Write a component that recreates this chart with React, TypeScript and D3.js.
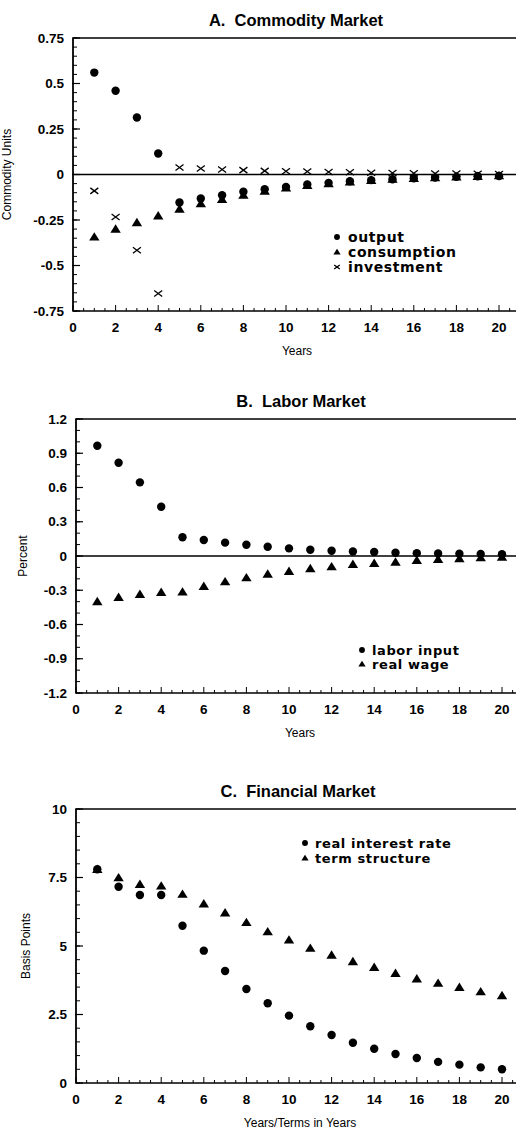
import React from "react";
import * as d3 from "d3";

// ---------- DATA ----------
const years = [1, 2, 3, 4, 5, 6, 7, 8, 9, 10, 11, 12, 13, 14, 15, 16, 17, 18, 19, 20];

// Panel A: Commodity Market (commodity units)
const outputA = [0.56, 0.46, 0.313, 0.115, -0.154, -0.132, -0.114, -0.095, -0.081, -0.068, -0.055, -0.046, -0.037, -0.031, -0.026, -0.021, -0.017, -0.013, -0.01, -0.008];
const consumptionA = [-0.343, -0.3, -0.264, -0.227, -0.19, -0.16, -0.137, -0.114, -0.092, -0.074, -0.06, -0.05, -0.04, -0.032, -0.026, -0.021, -0.017, -0.013, -0.01, -0.007];
const investmentA = [-0.09, -0.233, -0.416, -0.654, 0.038, 0.033, 0.027, 0.024, 0.02, 0.018, 0.016, 0.014, 0.012, 0.01, 0.008, 0.007, 0.006, 0.005, 0.004, 0.003];

// Panel B: Labor Market (percent)
const laborInput = [0.966, 0.817, 0.645, 0.432, 0.164, 0.14, 0.117, 0.099, 0.081, 0.067, 0.055, 0.046, 0.04, 0.035, 0.029, 0.025, 0.022, 0.02, 0.018, 0.016];
const realWage = [-0.4, -0.362, -0.336, -0.318, -0.315, -0.266, -0.225, -0.19, -0.158, -0.134, -0.111, -0.094, -0.073, -0.064, -0.053, -0.038, -0.029, -0.023, -0.015, -0.01];

// Panel C: Financial Market (basis points)
const realRate = [7.8, 7.16, 6.86, 6.86, 5.74, 4.83, 4.09, 3.43, 2.91, 2.46, 2.07, 1.75, 1.47, 1.25, 1.06, 0.91, 0.77, 0.67, 0.57, 0.5];
const termStructure = [7.8, 7.49, 7.25, 7.19, 6.89, 6.54, 6.21, 5.86, 5.52, 5.22, 4.92, 4.67, 4.43, 4.22, 4.0, 3.8, 3.64, 3.49, 3.33, 3.19];

// Ticks
const xTicks = [0, 2, 4, 6, 8, 10, 12, 14, 16, 18, 20];
const yTicksA = [0.75, 0.5, 0.25, 0, -0.25, -0.5, -0.75];
const yTickLabelsA = ["0.75", "0.5", "0.25", "0", "-0.25", "-0.5", "-0.75"];
const yTicksB = [1.2, 0.9, 0.6, 0.3, 0, -0.3, -0.6, -0.9, -1.2];
const yTickLabelsB = ["1.2", "0.9", "0.6", "0.3", "0", "-0.3", "-0.6", "-0.9", "-1.2"];
const yTicksC = [10, 7.5, 5, 2.5, 0];
const yTickLabelsC = ["10", "7.5", "5", "2.5", "0"];

type Marker = "circle" | "triangle" | "cross";
interface Series { name: string; values: number[]; marker: Marker; }

const TICK_FONT = "'Liberation Sans', Arial, sans-serif";
const LEG_FONT = "'DejaVu Sans', sans-serif";

function MarkerShape({ type, x, y, s = 1 }: { type: Marker; x: number; y: number; s?: number }) {
  if (type === "circle") return <circle cx={x} cy={y} r={4.2 * s} fill="#000" />;
  if (type === "triangle") {
    const w = 5.2 * s, hb = 3.6 * s, ht = 4.8 * s;
    return <path d={`M${x - w},${y + hb}L${x + w},${y + hb}L${x},${y - ht}Z`} fill="#000" />;
  }
  const w = 4 * s, h = 3 * s;
  return (
    <path d={`M${x - w},${y - h}L${x + w},${y + h}M${x - w},${y + h}L${x + w},${y - h}`} stroke="#000" strokeWidth={1.3} fill="none" />
  );
}

interface PanelProps {
  title: string; titleX: number;
  top: number; bottom: number; left: number; x20: number;
  yDomain: [number, number]; yTicks: number[]; yLabels: string[]; yMinor: number;
  yLabel: string; yLabelX: number;
  xLabel: string;
  series: Series[];
  legendX: number; legendY: number; legendGap: number; legendSize: number; legendSpacing: number;
  zeroLine: boolean;
}

function Panel(p: PanelProps) {
  const xs = d3.scaleLinear().domain([0, 20]).range([p.left, p.x20]);
  const ys = d3.scaleLinear().domain(p.yDomain).range([p.bottom, p.top]);
  const right = 516;
  const xMinor = d3.range(0, 20.51, 0.5);
  const yMinorTicks = d3.range(p.yDomain[0], p.yDomain[1] + 1e-9, p.yMinor);
  const midY = (p.top + p.bottom) / 2;
  return (
    <g>
      <text x={p.titleX} y={p.top - 12.5} textAnchor="middle" fontFamily={TICK_FONT} fontWeight="bold" fontSize={16.5} style={{ whiteSpace: "pre" }}>{p.title}</text>
      {/* frame */}
      <line x1={p.left} x2={right} y1={p.top} y2={p.top} stroke="#000" strokeWidth={1.6} />
      <line x1={p.left} x2={right} y1={p.bottom} y2={p.bottom} stroke="#000" strokeWidth={1.6} />
      <line x1={p.left} x2={p.left} y1={p.top} y2={p.bottom} stroke="#000" strokeWidth={1.8} />
      {p.zeroLine && <line x1={p.left} x2={right} y1={ys(0)} y2={ys(0)} stroke="#000" strokeWidth={1.6} />}
      {/* y minor ticks */}
      {yMinorTicks.map((v, i) => (
        <line key={"ym" + i} x1={p.left} x2={p.left + 4} y1={ys(v)} y2={ys(v)} stroke="#000" strokeWidth={1} />
      ))}
      {p.yTicks.map((v, i) => (
        <g key={"y" + i}>
          <line x1={p.left - 1} x2={p.left + 7} y1={ys(v)} y2={ys(v)} stroke="#000" strokeWidth={1.2} />
          <text x={p.left - 9} y={ys(v) + 4.6} textAnchor="end" fontFamily={TICK_FONT} fontWeight="bold" fontSize={13.5}>{p.yLabels[i]}</text>
        </g>
      ))}
      {/* x ticks */}
      {xMinor.map((v, i) => (
        <line key={"xm" + i} x1={xs(v)} x2={xs(v)} y1={p.bottom} y2={p.bottom - (v % 2 === 0 ? 6 : 3)} stroke="#000" strokeWidth={1} />
      ))}
      {xTicks.map((v) => (
        <text key={"x" + v} x={xs(v)} y={p.bottom + 20.5} textAnchor="middle" fontFamily={TICK_FONT} fontWeight="bold" fontSize={13.5}>{v}</text>
      ))}
      <text x={(p.left + p.x20) / 2 + 11} y={p.bottom + 44} textAnchor="middle" fontFamily={TICK_FONT} fontSize={12}>{p.xLabel}</text>
      <text transform={`translate(${p.yLabelX},${midY}) rotate(-90)`} textAnchor="middle" fontFamily={TICK_FONT} fontSize={12}>{p.yLabel}</text>
      {/* data */}
      {p.series.map((s) =>
        s.values.map((v, i) => <MarkerShape key={s.name + i} type={s.marker} x={xs(years[i])} y={ys(v)} />)
      )}
      {/* legend */}
      {p.series.map((s, i) => (
        <g key={"leg" + s.name}>
          <MarkerShape type={s.marker} x={p.legendX} y={p.legendY + i * p.legendSpacing} s={0.7} />
          <text x={p.legendX + p.legendGap} y={p.legendY + i * p.legendSpacing + 4.8} fontFamily={LEG_FONT} fontWeight="bold" fontSize={p.legendSize} letterSpacing={0.6}>{s.name}</text>
        </g>
      ))}
    </g>
  );
}

export default function App() {
  return (
    <svg width={516} height={1134} style={{ position: "absolute", left: 0, top: 0, background: "#fff" }}>
      <rect width={516} height={1134} fill="#fff" />
      <Panel
        title="A.  Commodity Market" titleX={296}
        top={38} bottom={311} left={73} x20={499}
        yDomain={[-0.75, 0.75]} yTicks={yTicksA} yLabels={yTickLabelsA} yMinor={0.05}
        yLabel="Commodity Units" yLabelX={11}
        xLabel="Years"
        series={[
          { name: "output", values: outputA, marker: "circle" },
          { name: "consumption", values: consumptionA, marker: "triangle" },
          { name: "investment", values: investmentA, marker: "cross" },
        ]}
        legendX={337} legendY={237} legendGap={11} legendSize={14} legendSpacing={15}
        zeroLine={true}
      />
      <Panel
        title="B.  Labor Market" titleX={301}
        top={419} bottom={693} left={76} x20={502}
        yDomain={[-1.2, 1.2]} yTicks={yTicksB} yLabels={yTickLabelsB} yMinor={0.1}
        yLabel="Percent" yLabelX={27}
        xLabel="Years"
        series={[
          { name: "labor input", values: laborInput, marker: "circle" },
          { name: "real wage", values: realWage, marker: "triangle" },
        ]}
        legendX={362} legendY={650} legendGap={10} legendSize={13} legendSpacing={14}
        zeroLine={true}
      />
      <Panel
        title="C.  Financial Market" titleX={298}
        top={809} bottom={1083} left={76} x20={502}
        yDomain={[0, 10]} yTicks={yTicksC} yLabels={yTickLabelsC} yMinor={0.5}
        yLabel="Basis Points" yLabelX={30}
        xLabel="Years/Terms in Years"
        series={[
          { name: "real interest rate", values: realRate, marker: "circle" },
          { name: "term structure", values: termStructure, marker: "triangle" },
        ]}
        legendX={305} legendY={843} legendGap={10} legendSize={13} legendSpacing={15}
        zeroLine={false}
      />
    </svg>
  );
}
